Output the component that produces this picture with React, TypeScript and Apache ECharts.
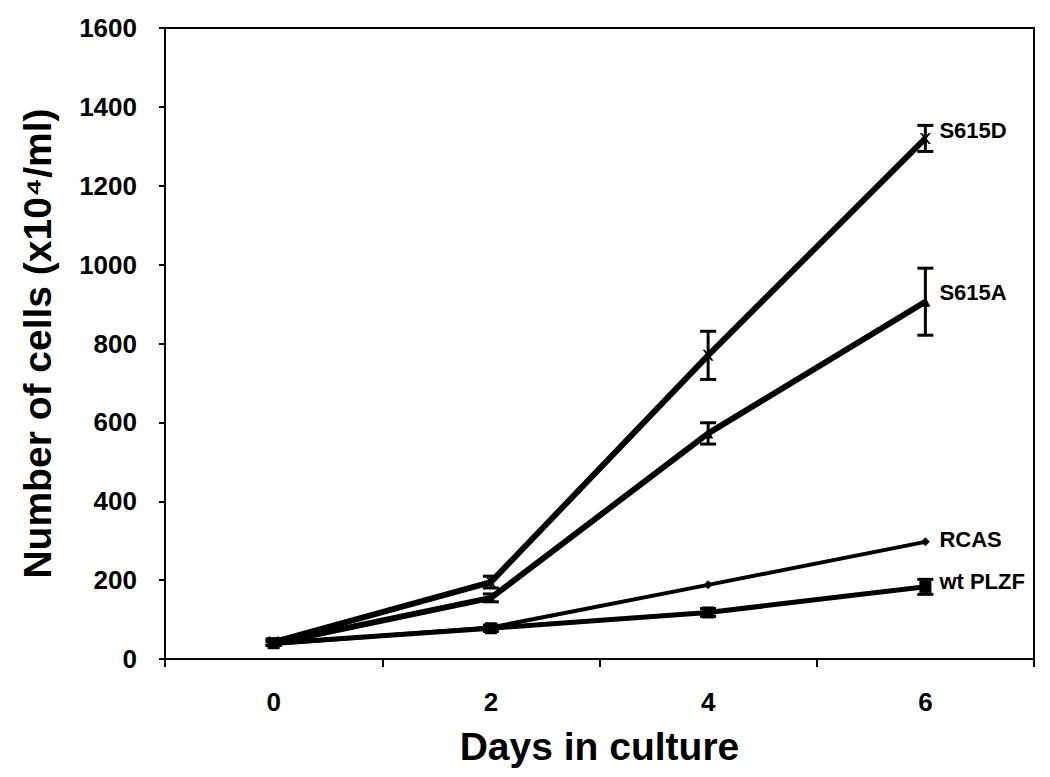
import React, { useEffect, useRef } from "react";
import * as echarts from "echarts";

const days = ["0", "2", "4", "6"];
const s615d = [43, 195, 770, 1320];
const s615dErr = [8, 15, 61, 33];
const s615a = [40, 155, 572, 906];
const s615aErr = [6, 10, 27, 85];
const rcas = [38, 80, 188, 297];
const rcasErr = [0, 0, 0, 0];
const wtPlzf = [40, 78, 118, 183];
const wtPlzfErr = [5, 8, 10, 19];

const FONT = "'Liberation Sans', Arial, Helvetica, sans-serif";

const xPath = "path://M0,0 L2,0 L5,3.5 L8,0 L10,0 L6,5 L10,10 L8,10 L5,6.5 L2,10 L0,10 L4,5 Z";

function errSeries(name: string, vals: number[], errs: number[]) {
  return {
    type: "custom",
    name: name + "-err",
    silent: true,
    z: 5,
    data: vals.map((v, i) => [i, v - errs[i], v + errs[i]]),
    renderItem: (params: any, api: any) => {
      const x = api.value(0);
      const lo = api.coord([x, api.value(1)]);
      const hi = api.coord([x, api.value(2)]);
      const hw = 8;
      const style = { stroke: "#000", lineWidth: 3 };
      if (Math.abs(hi[1] - lo[1]) < 1) return { type: "group", children: [] };
      return {
        type: "group",
        children: [
          { type: "line", shape: { x1: lo[0], y1: lo[1], x2: hi[0], y2: hi[1] }, style },
          { type: "line", shape: { x1: lo[0] - hw, y1: lo[1], x2: lo[0] + hw, y2: lo[1] }, style },
          { type: "line", shape: { x1: hi[0] - hw, y1: hi[1], x2: hi[0] + hw, y2: hi[1] }, style },
        ],
      };
    },
  };
}

function lineSeries(name: string, vals: number[], width: number, symbol: string, size: number, offY: number) {
  return {
    type: "line",
    name,
    data: vals,
    symbol,
    symbolSize: size,
    lineStyle: { color: "#000", width },
    itemStyle: { color: "#000" },
    z: 3,
    endLabel: {
      show: true,
      formatter: name,
      color: "#000",
      fontFamily: FONT,
      fontWeight: "bold",
      fontSize: 22,
      offset: [6, offY],
    },
  };
}

export default function App() {
  const ref = useRef<HTMLDivElement>(null);
  useEffect(() => {
    if (!ref.current) return;
    const chart = echarts.init(ref.current, undefined, { renderer: "svg" });
    chart.setOption({
      animation: false,
      backgroundColor: "#fff",
      grid: {
        left: 165,
        right: 16,
        top: 28,
        bottom: 118,
        show: true,
        borderColor: "#000",
        borderWidth: 2,
        backgroundColor: "transparent",
        containLabel: false,
        outerBoundsMode: "none",
      },
      xAxis: {
        type: "category",
        data: days,
        boundaryGap: true,
        name: "Days in culture",
        nameLocation: "middle",
        nameGap: 68,
        nameTextStyle: { color: "#000", fontFamily: FONT, fontWeight: "bold", fontSize: 39 },
        axisLine: { lineStyle: { color: "#000", width: 2 } },
        axisTick: { show: true, alignWithLabel: false, length: 8, lineStyle: { color: "#000", width: 2 } },
        axisLabel: { color: "#000", fontFamily: FONT, fontWeight: "bold", fontSize: 26, margin: 30 },
        splitLine: { show: false },
      },
      yAxis: {
        type: "value",
        min: 0,
        max: 1600,
        interval: 200,
        name: "Number of cells (x10\u2074/ml)",
        nameLocation: "middle",
        nameGap: 108,
        nameTextStyle: { color: "#000", fontFamily: FONT, fontWeight: "bold", fontSize: 39 },
        axisLine: { show: true, lineStyle: { color: "#000", width: 2 } },
        axisTick: { show: true, length: 6, lineStyle: { color: "#000", width: 2 } },
        axisLabel: {
          color: "#000",
          fontFamily: FONT,
          fontWeight: "bold",
          fontSize: 26,
          margin: 28,
          formatter: (v: number) => String(v),
        },
        splitLine: { show: false },
      },
      series: [
        lineSeries("S615D", s615d, 6, xPath, 11, -8),
        lineSeries("S615A", s615a, 6, "triangle", 10, -9),
        lineSeries("RCAS", rcas, 4, "diamond", 9, -2),
        lineSeries("wt PLZF", wtPlzf, 5, "rect", 12, -5),
        errSeries("S615D", s615d, s615dErr),
        errSeries("S615A", s615a, s615aErr),
        errSeries("RCAS", rcas, rcasErr),
        errSeries("wt PLZF", wtPlzf, wtPlzfErr),
      ],
    });
    return () => chart.dispose();
  }, []);
  return <div ref={ref} style={{ width: 1050, height: 777, position: "absolute", left: 0, top: 0 }} />;
}
